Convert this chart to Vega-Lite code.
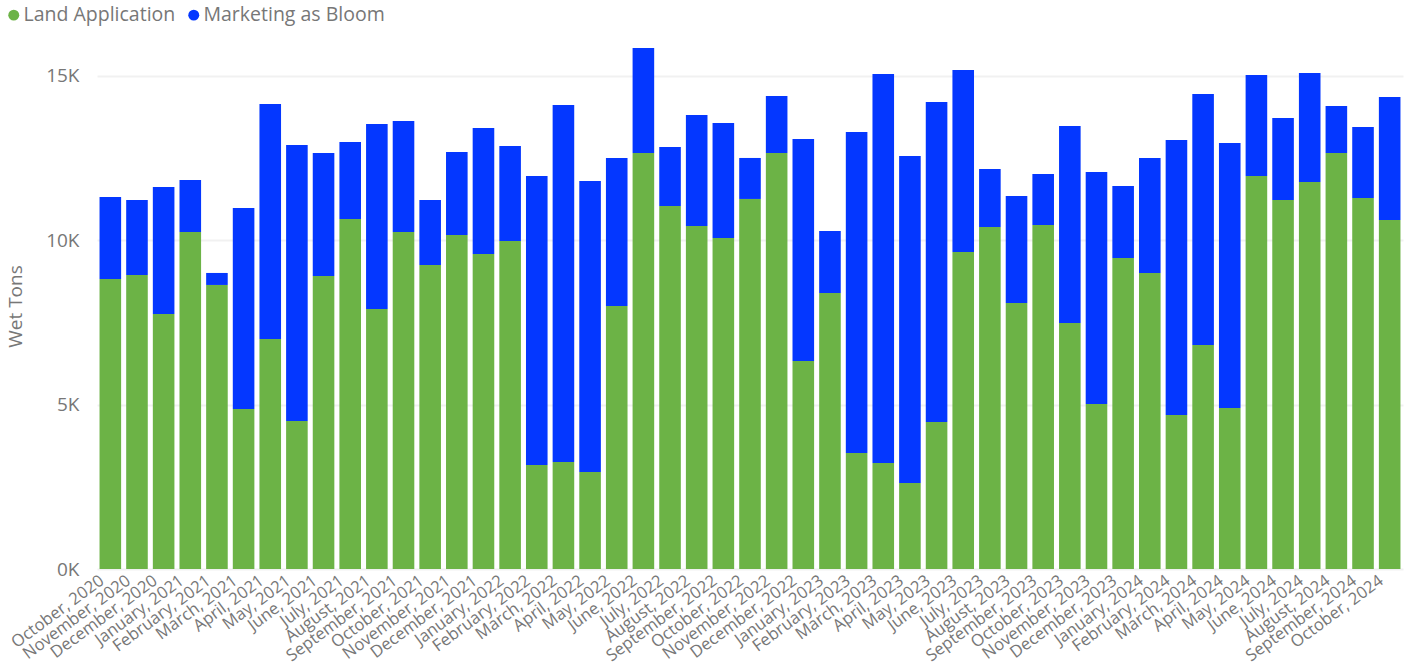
{"$schema":"https://vega.github.io/schema/vega-lite/v6.json","width":1306,"height":526,"autosize":{"type":"none"},"padding":{"left":97,"top":43,"right":5,"bottom":96},"background":"white","config":{"view":{"stroke":null},"font":"Open Sans"},"data":{"values":[
{"month":"October, 2020","series":"Land Application","tons":8823},{"month":"October, 2020","series":"Marketing as Bloom","tons":2495},
{"month":"November, 2020","series":"Land Application","tons":8945},{"month":"November, 2020","series":"Marketing as Bloom","tons":2282},
{"month":"December, 2020","series":"Land Application","tons":7758},{"month":"December, 2020","series":"Marketing as Bloom","tons":3864},
{"month":"January, 2021","series":"Land Application","tons":10253},{"month":"January, 2021","series":"Marketing as Bloom","tons":1582},
{"month":"February, 2021","series":"Land Application","tons":8640},{"month":"February, 2021","series":"Marketing as Bloom","tons":365},
{"month":"March, 2021","series":"Land Application","tons":4868},{"month":"March, 2021","series":"Marketing as Bloom","tons":6115},
{"month":"April, 2021","series":"Land Application","tons":6997},{"month":"April, 2021","series":"Marketing as Bloom","tons":7149},
{"month":"May, 2021","series":"Land Application","tons":4503},{"month":"May, 2021","series":"Marketing as Bloom","tons":8397},
{"month":"June, 2021","series":"Land Application","tons":8914},{"month":"June, 2021","series":"Marketing as Bloom","tons":3742},
{"month":"July, 2021","series":"Land Application","tons":10648},{"month":"July, 2021","series":"Marketing as Bloom","tons":2343},
{"month":"August, 2021","series":"Land Application","tons":7910},{"month":"August, 2021","series":"Marketing as Bloom","tons":5628},
{"month":"September, 2021","series":"Land Application","tons":10253},{"month":"September, 2021","series":"Marketing as Bloom","tons":3377},
{"month":"October, 2021","series":"Land Application","tons":9248},{"month":"October, 2021","series":"Marketing as Bloom","tons":1977},
{"month":"November, 2021","series":"Land Application","tons":10161},{"month":"November, 2021","series":"Marketing as Bloom","tons":2525},
{"month":"December, 2021","series":"Land Application","tons":9583},{"month":"December, 2021","series":"Marketing as Bloom","tons":3833},
{"month":"January, 2022","series":"Land Application","tons":9978},{"month":"January, 2022","series":"Marketing as Bloom","tons":2890},
{"month":"February, 2022","series":"Land Application","tons":3164},{"month":"February, 2022","series":"Marketing as Bloom","tons":8792},
{"month":"March, 2022","series":"Land Application","tons":3255},{"month":"March, 2022","series":"Marketing as Bloom","tons":10861},
{"month":"April, 2022","series":"Land Application","tons":2951},{"month":"April, 2022","series":"Marketing as Bloom","tons":8853},
{"month":"May, 2022","series":"Land Application","tons":8001},{"month":"May, 2022","series":"Marketing as Bloom","tons":4502},
{"month":"June, 2022","series":"Land Application","tons":12656},{"month":"June, 2022","series":"Marketing as Bloom","tons":3194},
{"month":"July, 2022","series":"Land Application","tons":11043},{"month":"July, 2022","series":"Marketing as Bloom","tons":1795},
{"month":"August, 2022","series":"Land Application","tons":10435},{"month":"August, 2022","series":"Marketing as Bloom","tons":3377},
{"month":"September, 2022","series":"Land Application","tons":10070},{"month":"September, 2022","series":"Marketing as Bloom","tons":3499},
{"month":"October, 2022","series":"Land Application","tons":11256},{"month":"October, 2022","series":"Marketing as Bloom","tons":1247},
{"month":"November, 2022","series":"Land Application","tons":12656},{"month":"November, 2022","series":"Marketing as Bloom","tons":1734},
{"month":"December, 2022","series":"Land Application","tons":6328},{"month":"December, 2022","series":"Marketing as Bloom","tons":6754},
{"month":"January, 2023","series":"Land Application","tons":8397},{"month":"January, 2023","series":"Marketing as Bloom","tons":1886},
{"month":"February, 2023","series":"Land Application","tons":3529},{"month":"February, 2023","series":"Marketing as Bloom","tons":9765},
{"month":"March, 2023","series":"Land Application","tons":3225},{"month":"March, 2023","series":"Marketing as Bloom","tons":11834},
{"month":"April, 2023","series":"Land Application","tons":2616},{"month":"April, 2023","series":"Marketing as Bloom","tons":9948},
{"month":"May, 2023","series":"Land Application","tons":4472},{"month":"May, 2023","series":"Marketing as Bloom","tons":9735},
{"month":"June, 2023","series":"Land Application","tons":9644},{"month":"June, 2023","series":"Marketing as Bloom","tons":5537},
{"month":"July, 2023","series":"Land Application","tons":10404},{"month":"July, 2023","series":"Marketing as Bloom","tons":1764},
{"month":"August, 2023","series":"Land Application","tons":8092},{"month":"August, 2023","series":"Marketing as Bloom","tons":3255},
{"month":"September, 2023","series":"Land Application","tons":10465},{"month":"September, 2023","series":"Marketing as Bloom","tons":1552},
{"month":"October, 2023","series":"Land Application","tons":7484},{"month":"October, 2023","series":"Marketing as Bloom","tons":5993},
{"month":"November, 2023","series":"Land Application","tons":5020},{"month":"November, 2023","series":"Marketing as Bloom","tons":7058},
{"month":"December, 2023","series":"Land Application","tons":9461},{"month":"December, 2023","series":"Marketing as Bloom","tons":2190},
{"month":"January, 2024","series":"Land Application","tons":9005},{"month":"January, 2024","series":"Marketing as Bloom","tons":3499},
{"month":"February, 2024","series":"Land Application","tons":4685},{"month":"February, 2024","series":"Marketing as Bloom","tons":8366},
{"month":"March, 2024","series":"Land Application","tons":6815},{"month":"March, 2024","series":"Marketing as Bloom","tons":7636},
{"month":"April, 2024","series":"Land Application","tons":4898},{"month":"April, 2024","series":"Marketing as Bloom","tons":8062},
{"month":"May, 2024","series":"Land Application","tons":11956},{"month":"May, 2024","series":"Marketing as Bloom","tons":3073},
{"month":"June, 2024","series":"Land Application","tons":11226},{"month":"June, 2024","series":"Marketing as Bloom","tons":2495},
{"month":"July, 2024","series":"Land Application","tons":11773},{"month":"July, 2024","series":"Marketing as Bloom","tons":3316},
{"month":"August, 2024","series":"Land Application","tons":12656},{"month":"August, 2024","series":"Marketing as Bloom","tons":1430},
{"month":"September, 2024","series":"Land Application","tons":11287},{"month":"September, 2024","series":"Marketing as Bloom","tons":2160},
{"month":"October, 2024","series":"Land Application","tons":10617},{"month":"October, 2024","series":"Marketing as Bloom","tons":3742}
]},"mark":{"type":"bar"},"encoding":{"x":{"field":"month","type":"nominal","sort":null,"title":null,"scale":{"paddingInner":0.19,"paddingOuter":0.095},"axis":{"labelAngle":-36.5,"labelAlign":"right","labelBaseline":"top","labelFontSize":16.7,"labelColor":"#777777","labelPadding":3,"labelOffset":-13,"labelOverlap":false,"labelLimit":200,"ticks":false,"domain":false}},"y":{"field":"tons","type":"quantitative","stack":"zero","title":"Wet Tons","scale":{"domain":[0,16000],"nice":false},"axis":{"values":[0,5000,10000,15000],"labelExpr":"(datum.value/1000)+'K'","labelFontSize":19,"labelColor":"#777777","labelPadding":18,"titleFontSize":19,"titleFontWeight":"normal","titleColor":"#777777","titlePadding":20,"ticks":false,"domain":false,"gridColor":"#f1f1f1","gridWidth":2}},"color":{"field":"series","type":"nominal","scale":{"domain":["Land Application","Marketing as Bloom"],"range":["#6CB346","#0437FF"]},"legend":{"orient":"none","legendX":-93,"legendY":-38,"direction":"horizontal","title":null,"symbolType":"circle","symbolOpacity":1,"symbolSize":120,"labelFontSize":19.5,"labelColor":"#777777","labelOffset":0,"columnPadding":8,"labelLimit":300}},"order":{"field":"series","sort":"ascending"}}}
